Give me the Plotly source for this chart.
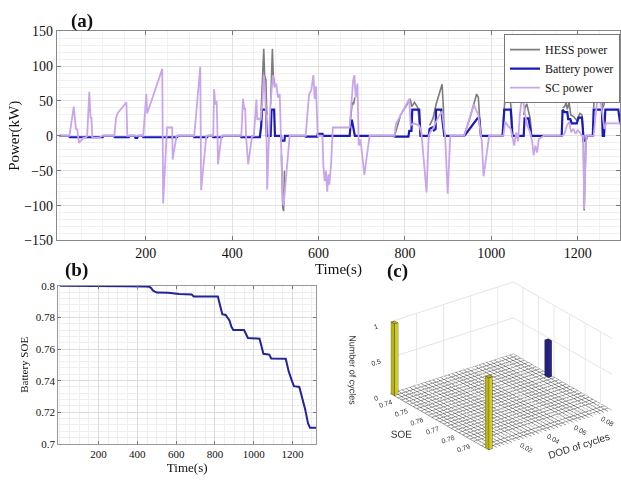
import numpy as np
import plotly.graph_objects as go

# ---------------- Panel (a): power split ----------------
t_sc = [0, 23, 33, 38, 41, 45, 55, 61, 63,
        64, 69, 72, 74, 76, 91, 99,
        127, 131, 135, 155, 157,
        194, 201, 203, 238, 239, 240, 249, 261, 262, 267, 271,
        312, 326, 328, 340,
        356, 358, 361, 364, 366, 367, 375,
        421, 425, 428, 430, 432, 437, 446,
        450, 456, 458, 462, 466, 470, 473, 476, 479, 481, 484, 488, 494, 498, 502, 506, 510, 513, 517, 519, 533,
        570, 578, 583, 588, 591, 594, 598, 609,
        611, 614, 617, 620, 623, 625, 629, 633, 672,
        676, 680, 683, 686, 690, 693, 697, 706, 718,
        776, 779, 790, 800, 810, 813, 820, 833, 838, 850, 855,
        858, 865, 872, 880, 886, 890, 893, 899, 905,
        937, 950, 960, 966, 970, 974, 978, 982, 995,
        1028, 1032, 1038, 1045, 1050, 1053, 1058, 1062, 1066, 1072, 1077, 1083, 1090, 1095, 1098, 1102, 1106, 1110, 1121,
        1165, 1170, 1175, 1180, 1185, 1190, 1195, 1200, 1205, 1210, 1213, 1215, 1220,
        1237, 1241, 1245, 1250, 1254, 1258, 1262, 1266, 1270, 1298, 1310]
p_sc = [0, 0, 42, 10, 9, -10, -3, -3, 0,
        0, 63, 25, 27, -3, -3, 0,
        0, 26, 33, 48, 0,
        0, 60, 32, 96, 0, -97, 12, 12, -34, -14, 0,
        0, 99, -78, 0,
        0, 67, 45, 50, 0, -41, 0,
        0, 53, 38, 40, 0, -41, 0,
        0, 52, 23, 25, 22, 50, 87, 64, 20, -77, -20, 40, 87, 70, 75, 55, 60, -20, -95, -100, 0,
        0, 60, 65, 87, 53, 71, 0, 0,
        -42, -65, -50, -80, -55, -70, -40, 12, 12,
        40, 80, 87, 55, 75, -14, -5, -56, 0,
        0, 17, 30, 42, 53, 15, 18, 15, 5, -81, 0,
        5, 10, 20, 30, 35, 10, 0, -83, 0,
        0, 25, 45, 35, 30, 10, -8, -58, 0,
        0, 20, 15, 10, -5, -14, 5, -8, 30, 61, 35, 15, 5, -10, -28, -14, -24, -5, 0,
        0, 4, 15, 20, 5, 10, 3, 8, 5, 0, 0, -105, 0,
        0, 30, 50, 64, 48, 32, 10, 18, 18, 18, 0]

t_batt = [0, 22, 24, 100, 102, 126, 128, 160, 162, 174, 176, 180, 182, 192, 194, 272, 274,
          310, 312, 342, 344, 354, 356, 376, 378, 419, 421, 464, 467, 469, 478, 480,
          489, 491, 497, 499, 513, 514, 521, 522, 568, 570, 597, 598, 609, 610,
          672, 674, 677, 680, 684, 775, 777, 808, 810, 815, 817, 833, 836,
          855, 857, 863, 867, 871, 872, 884, 891, 937, 940, 968, 972, 976,
          1026, 1030, 1045, 1049, 1075, 1077, 1086, 1093,
          1163, 1165, 1170, 1176, 1178, 1183, 1186, 1198, 1202, 1210, 1213, 1214, 1219, 1221,
          1235, 1237, 1256, 1258, 1261, 1264, 1294, 1298, 1310]
p_batt = [0, 0, -2, -2, 0, 0, -2, -2, 0, 0, -3, -3, 0, 0, -2, -2, 0,
          0, -2, -2, 0, 0, -2, -2, 0, 0, -2, -2, 14, 37.5, 37.5, 0,
          0, 37.5, 37.5, 0, 0, -7, -7, 0, 0, -1, -1, 3, 3, 0,
          0, 15, 23, 12, 0, 0, -1, -1, 7, 7, 37.5, 37.5, 0,
          0, 10, 12, 8, 10, 37.5, 37.5, 0, 0, 2, 25, 25, 0,
          0, 37.5, 37.5, 0, 0, 25, 25, 0,
          0, 37.5, 34, 34, 24, 24, 18, 18, 26, 26, 0, -7, -7, 0,
          0, 37.5, 37.5, 0, 0, 37.5, 37.5, 20, 0]

t_hess = [467, 471, 473, 475, 478, 480, None,
          489, 491, 493, 495, 497, 499, None,
          514, 517, 519, 521, None,
          672, 674, 678, 681, 684, None,
          776, 790, 805, 812, 816, 822, 830, 836, None,
          857, 865, 872, 880, 886, 889, 891, None,
          937, 950, 966, 970, 974, None,
          1028, 1032, 1035, 1040, 1045, 1049, None,
          1075, 1078, 1082, 1086, 1090, 1093, None,
          1165, 1170, 1173, 1176, 1180, 1184, 1190, 1198, 1205, 1210, 1213, 1215, 1219, None,
          1237, 1241, 1245, 1250, 1254, 1257, 1261, 1266, 1270, 1298]
p_hess = [36, 87, 125, 87, 80, 30, None,
          45, 80, 125, 87, 80, 70, None,
          -27, -102, -108, -50, None,
          12, 27, 48, 45, 55, None,
          0, 30, 45, 53, 42, 48, 40, 0, None,
          15, 25, 45, 62, 74, 40, 5, None,
          0, 25, 60, 55, 15, None,
          20, 58, 50, 59, 45, 10, None,
          30, 40, 46, 35, 25, 5, None,
          40, 42, 48, 38, 48, 30, 28, 22, 32, 30, 0, -107, -10, None,
          40, 76, 64, 70, 88, 39, 45, 67, 53, 53]

power_ticks = [-150, -100, -50, 0, 50, 100, 150]
time_ticks = [200, 400, 600, 800, 1000, 1200]

# ---------------- Panel (b): battery SOE ----------------
t_soe = [1, 280, 350, 440, 463, 472, 480, 490, 500, 560, 600, 615, 680, 690, 815, 825, 838, 855,
         862, 875, 885, 895, 950, 958, 970, 1030, 1040, 1050, 1080, 1090, 1165, 1180, 1195,
         1207, 1235, 1250, 1265, 1280, 1290, 1322]
soe = [0.8, 0.8, 0.7996, 0.7995, 0.7993, 0.7985, 0.797, 0.7963, 0.7957, 0.7955, 0.795, 0.7947,
       0.7945, 0.7932, 0.7932, 0.788, 0.782, 0.7815, 0.7805, 0.778, 0.774, 0.772, 0.772, 0.7695,
       0.767, 0.7665, 0.762, 0.757, 0.7565, 0.754, 0.7538, 0.746, 0.7405, 0.7365, 0.736, 0.729,
       0.722, 0.713, 0.7102, 0.7102]
soe_ticks = [0.7, 0.72, 0.74, 0.76, 0.78, 0.8]
soe_ticktext = ["0.7", "0.72", "0.74", "0.76", "0.78", "0.8"]

# ---------------- Panel (c): rainflow cycle histogram ----------------
bar_soe = [0.7352, 0.7958, 0.7580]
bar_dod = [0.0020, 0.0020, 0.0895]
bar_cycles = [1.0, 1.0, 0.5]
bar_colors = ["#f4ee22", "#f4ee22", "#2c2a9a"]
soe_range = [0.7338, 0.7972]
dod_range = [0.0005, 0.0915]
n_soe_bins = 26
n_dod_bins = 32
c_soe_ticks = [0.74, 0.75, 0.76, 0.77, 0.78, 0.79]
c_dod_ticks = [0.02, 0.04, 0.06, 0.08]
c_z_ticks = [0, 0.5, 1]

SERIF = "Liberation Serif"
SANS = "Liberation Sans"

fig = go.Figure()

fig.add_trace(go.Scatter(x=t_hess, y=p_hess, mode="lines", name="HESS power",
                         line=dict(color="#7c7c7c", width=1.6), connectgaps=False,
                         xaxis="x", yaxis="y"))
fig.add_trace(go.Scatter(x=t_batt, y=p_batt, mode="lines", name="Battery power",
                         line=dict(color="#1a1ab8", width=2.2), xaxis="x", yaxis="y"))
fig.add_trace(go.Scatter(x=t_sc, y=p_sc, mode="lines", name="SC power",
                         line=dict(color="#c9a6ec", width=1.8), xaxis="x", yaxis="y"))

fig.add_trace(go.Scatter(x=t_soe, y=soe, mode="lines", showlegend=False,
                         line=dict(color="#23239c", width=2), xaxis="x2", yaxis="y2"))

# ---- 3D bars
dx = (soe_range[1] - soe_range[0]) / n_soe_bins * 0.9
dy = (dod_range[1] - dod_range[0]) / n_dod_bins * 0.9
for sx, sy, h, col in zip(bar_soe, bar_dod, bar_cycles, bar_colors):
    x0, x1 = sx - dx / 2, sx + dx / 2
    y0, y1 = sy - dy / 2, sy + dy / 2
    vx = [x0, x1, x1, x0, x0, x1, x1, x0]
    vy = [y0, y0, y1, y1, y0, y0, y1, y1]
    vz = [0, 0, 0, 0, h, h, h, h]
    fig.add_trace(go.Mesh3d(x=vx, y=vy, z=vz,
                            i=[0, 0, 4, 4, 0, 0, 1, 1, 2, 2, 3, 3],
                            j=[1, 2, 5, 6, 1, 5, 2, 6, 3, 7, 0, 4],
                            k=[2, 3, 6, 7, 5, 4, 6, 5, 7, 6, 4, 7],
                            color=col, flatshading=True, showscale=False, hoverinfo="skip",
                            lighting=dict(ambient=0.75, diffuse=0.5, specular=0.1),
                            showlegend=False, scene="scene"))
    ex, ey, ez = [], [], []
    for a, b in [(0, 1), (1, 2), (2, 3), (3, 0), (4, 5), (5, 6), (6, 7), (7, 4),
                 (0, 4), (1, 5), (2, 6), (3, 7)]:
        ex += [vx[a], vx[b], None]
        ey += [vy[a], vy[b], None]
        ez += [vz[a], vz[b], None]
    fig.add_trace(go.Scatter3d(x=ex, y=ey, z=ez, mode="lines",
                               line=dict(color="#333333", width=1), showlegend=False,
                               hoverinfo="skip", scene="scene"))

# ---- floor grid (zero-height bars)
gx_edges = np.linspace(soe_range[0], soe_range[1], n_soe_bins + 1)
gy_edges = np.linspace(dod_range[0], dod_range[1], n_dod_bins + 1)
lx, ly, lz = [], [], []
for gx in gx_edges:
    lx += [gx, gx, None]
    ly += [dod_range[0], dod_range[1], None]
    lz += [0, 0, None]
for gy in gy_edges:
    lx += [soe_range[0], soe_range[1], None]
    ly += [gy, gy, None]
    lz += [0, 0, None]
fig.add_trace(go.Scatter3d(x=lx, y=ly, z=lz, mode="lines",
                           line=dict(color="#555555", width=1), showlegend=False,
                           hoverinfo="skip", scene="scene"))

axis3d = dict(showbackground=True, backgroundcolor="white", gridcolor="#e4e4e4",
              showspikes=False, zeroline=False, showline=False,
              tickfont=dict(family=SANS, size=9, color="#333333"))

W, H = 621, 481
fig.update_layout(
    width=W, height=H, margin=dict(l=0, r=0, t=0, b=0),
    paper_bgcolor="white", plot_bgcolor="white",
    font=dict(family=SERIF, color="#111111"),
    showlegend=True,
    legend=dict(x=1.0, xanchor="right", y=1 - 28 / H, yanchor="top",
                bgcolor="white", bordercolor="#777777", borderwidth=1,
                font=dict(family=SERIF, size=12), tracegroupgap=0,
                itemwidth=30),
    xaxis=dict(domain=[57 / W, 1.0], range=[-6, 1298], tickvals=time_ticks,
               ticks="inside", ticklen=4, tickcolor="#777", showline=True, linecolor="#888",
               mirror="ticks", showgrid=True, gridcolor="#e2e2e2", zeroline=False,
               minor=dict(dtick=50, showgrid=True, gridcolor="#f1f1f1"),
               tickfont=dict(family=SERIF, size=14),
               title=dict(text="Time(s)", font=dict(family=SERIF, size=15), standoff=2),
               anchor="y"),
    yaxis=dict(domain=[1 - 241 / H, 1 - 25 / H], range=[-150, 150], tickvals=power_ticks,
               ticks="inside", ticklen=4, tickcolor="#777", showline=True, linecolor="#888",
               mirror="ticks", showgrid=True, gridcolor="#e2e2e2", zeroline=False,
               minor=dict(dtick=10, showgrid=True, gridcolor="#f1f1f1"),
               tickfont=dict(family=SERIF, size=14),
               title=dict(text="Power(kW)", font=dict(family=SERIF, size=15), standoff=0),
               anchor="x"),
    xaxis2=dict(domain=[58.3 / W, 316.7 / W], range=[-8, 1322], tickvals=time_ticks,
                ticks="inside", ticklen=3, tickcolor="#777", showline=True, linecolor="#999",
                mirror="ticks", showgrid=True, gridcolor="#dcdcdc", zeroline=False,
                minor=dict(dtick=50, showgrid=True, gridcolor="#efefef"),
                tickfont=dict(family=SERIF, size=11),
                title=dict(text="Time(s)", font=dict(family=SERIF, size=13), standoff=1),
                anchor="y2"),
    yaxis2=dict(domain=[1 - 451 / H, 1 - 287.7 / H], range=[0.7, 0.8], tickvals=soe_ticks,
                ticktext=soe_ticktext,
                ticks="inside", ticklen=3, tickcolor="#777", showline=True, linecolor="#999",
                mirror="ticks", showgrid=True, gridcolor="#dcdcdc", zeroline=False,
                minor=dict(dtick=0.004, showgrid=True, gridcolor="#efefef"),
                tickfont=dict(family=SERIF, size=11),
                title=dict(text="Battery SOE", font=dict(family=SERIF, size=11), standoff=4),
                anchor="x2"),
    scene=dict(
        domain=dict(x=[0.56, 1.0], y=[0.02, 0.44]),
        xaxis=dict(axis3d, range=soe_range, tickvals=c_soe_ticks,
                   ticktext=[f"{v:.2f}" for v in c_soe_ticks],
                   title=dict(text="SOE", font=dict(family=SANS, size=10, color="#333"))),
        yaxis=dict(axis3d, range=dod_range, tickvals=c_dod_ticks,
                   ticktext=[f"{v:.2f}" for v in c_dod_ticks],
                   title=dict(text="DOD of cycles", font=dict(family=SANS, size=10, color="#333"))),
        zaxis=dict(axis3d, range=[0, 1], tickvals=c_z_ticks, ticktext=["0", "0.5", "1"],
                   title=dict(text="Number of cycles", font=dict(family=SANS, size=9, color="#333"))),
        aspectmode="manual", aspectratio=dict(x=1.675, y=1.57, z=0.81),
        camera=dict(projection=dict(type="orthographic"),
                    eye=dict(x=1.19, y=-1.121, z=0.775),
                    up=dict(x=0, y=0, z=1), center=dict(x=-0.108, y=-0.144, z=0)),
        bgcolor="white",
    ),
    annotations=[
        dict(text="<b>(a)</b>", x=82 / W, y=1 - 14 / H, xref="paper", yref="paper",
             xanchor="center", yanchor="middle",
             showarrow=False, font=dict(family=SERIF, size=19, color="#111")),
        dict(text="<b>(b)</b>", x=77 / W, y=1 - 271 / H, xref="paper", yref="paper",
             xanchor="center", yanchor="middle",
             showarrow=False, font=dict(family=SERIF, size=19, color="#111")),
        dict(text="<b>(c)</b>", x=398 / W, y=1 - 273 / H, xref="paper", yref="paper",
             xanchor="center", yanchor="middle",
             showarrow=False, font=dict(family=SERIF, size=19, color="#111")),
    ],
)

fig.write_html("out.html")
